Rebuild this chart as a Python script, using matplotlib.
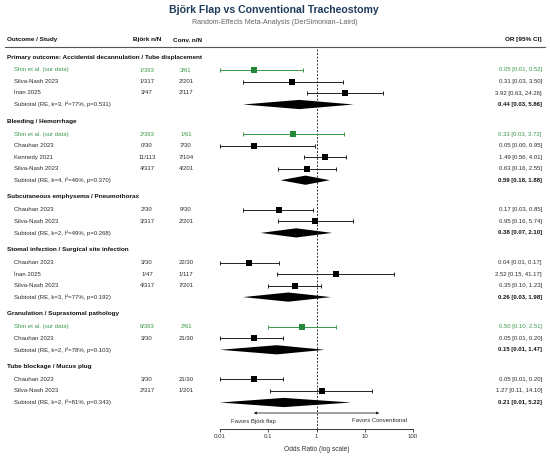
import matplotlib
matplotlib.use('Agg')
import matplotlib.pyplot as plt
from matplotlib.lines import Line2D
import numpy as np

plt.rcParams['font.family'] = ['Liberation Sans', 'DejaVu Sans']

# ---------------- data ----------------
outcomes = [
    "Primary outcome: Accidental decannulation / Tube displacement",
    "Bleeding / Hemorrhage",
    "Subcutaneous emphysema / Pneumothorax",
    "Stomal infection / Surgical site infection",
    "Granulation / Suprastomal pathology",
    "Tube blockage / Mucus plug",
]
group_sizes = [3, 4, 2, 3, 2, 2]

study_names = [
    "Shin et al. (our data)", "Silva-Nash 2023", "İnan 2025",
    "Shin et al. (our data)", "Chauhan 2023", "Kennedy 2021", "Silva-Nash 2023",
    "Chauhan 2023", "Silva-Nash 2023",
    "Chauhan 2023", "İnan 2025", "Silva-Nash 2023",
    "Shin et al. (our data)", "Chauhan 2023",
    "Chauhan 2023", "Silva-Nash 2023",
]
bjork_nN = ["1/363", "1/317", "3/47",
            "2/363", "0/30", "11/113", "4/317",
            "2/30", "3/317",
            "3/30", "1/47", "4/317",
            "6/363", "3/30",
            "3/30", "2/317"]
conv_nN = ["3/61", "2/201", "2/117",
           "1/61", "7/30", "7/104", "4/201",
           "9/30", "2/201",
           "22/30", "1/117", "7/201",
           "2/61", "21/30",
           "21/30", "1/201"]
or_est = [0.05, 0.31, 3.92,
          0.33, 0.05, 1.49, 0.63,
          0.17, 0.95,
          0.04, 2.52, 0.35,
          0.50, 0.05,
          0.05, 1.27]
or_lo = [0.01, 0.03, 0.63,
         0.03, 0.00, 0.56, 0.16,
         0.03, 0.16,
         0.01, 0.15, 0.10,
         0.10, 0.01,
         0.01, 0.11]
or_hi = [0.52, 3.50, 24.26,
         3.72, 0.95, 4.01, 2.55,
         0.85, 5.74,
         0.17, 41.17, 1.23,
         2.51, 0.20,
         0.20, 14.10]
own_data = [True, False, False,
            True, False, False, False,
            False, False,
            False, False, False,
            True, False,
            False, False]

sub_labels = [
    "Subtotal (RE, k=3, I²=77%, p=0.531)",
    "Subtotal (RE, k=4, I²=46%, p=0.370)",
    "Subtotal (RE, k=2, I²=49%, p=0.268)",
    "Subtotal (RE, k=3, I²=77%, p=0.192)",
    "Subtotal (RE, k=2, I²=78%, p=0.103)",
    "Subtotal (RE, k=2, I²=81%, p=0.343)",
]
sub_est = [0.44, 0.59, 0.38, 0.26, 0.15, 0.21]
sub_lo = [0.03, 0.18, 0.07, 0.03, 0.01, 0.01]
sub_hi = [5.86, 1.88, 2.10, 1.98, 1.47, 5.22]

x_ticks = [0.01, 0.1, 1, 10, 100]
x_ticklabels = ["0.01", "0.1", "1", "10", "100"]

# ---------------- layout (pixel units) ----------------
W, H = 550, 457
GREEN = '#23883a'
GREEN_TXT = '#3a9a4a'
NAVY = '#1f3b5c'
TXT = '#2b2b2b'

fig = plt.figure(figsize=(W / 100, H / 100), dpi=100)
tax = fig.add_axes([0, 0, 1, 1])
tax.set_xlim(0, W)
tax.set_ylim(H, 0)
tax.axis('off')

ax_left, ax_right = 220, 413
ax_top, ax_bot = 47, 429
ax = fig.add_axes([ax_left / W, 1 - ax_bot / H, (ax_right - ax_left) / W, (ax_bot - ax_top) / H])
ax.patch.set_alpha(0)
ax.set_xscale('log')
ax.set_xlim(0.01, 100)
ax.set_ylim(ax_bot, ax_top)

# row positions
y = 57.0
step, head_gap, group_gap = 11.5, 13.0, 16.7
head_y, study_y, sub_y = [], [], []
for gi, n in enumerate(group_sizes):
    head_y.append(y)
    y += head_gap
    for k in range(n):
        study_y.append(y)
        y += step
    sub_y.append(y)
    y += group_gap

fs_head = 4.55
fs_row = 4.3

# title
tax.text(W / 2 - 1, 10, "Björk Flap vs Conventional Tracheostomy", ha='center', va='center',
         fontsize=7.6, fontweight='bold', color=NAVY)
tax.text(W / 2, 22.5, "Random-Effects Meta-Analysis (DerSimonian–Laird)", ha='center', va='center',
         fontsize=5.1, color='#666666')

# column headers
col_study, col_name, col_b, col_c, col_or = 7, 14, 147, 186, 542
tax.text(col_study, 40, "Outcome / Study", ha='left', va='center', fontsize=fs_head, fontweight='bold', color='#111')
tax.text(col_b, 40, "Björk n/N", ha='center', va='center', fontsize=fs_head, fontweight='bold', color='#111')
tax.text(col_c + 1.5, 40, "Conv. n/N", ha='center', va='center', fontsize=fs_head, fontweight='bold', color='#111')
tax.text(col_or, 40, "OR [95% CI]", ha='right', va='center', fontsize=fs_head, fontweight='bold', color='#111')
tax.add_line(Line2D([5, 545], [ax_top, ax_top], color='#555555', lw=0.8))

xmin, xmax = ax.get_xlim()

for gi, name in enumerate(outcomes):
    tax.text(col_study, head_y[gi], name, ha='left', va='center', fontsize=fs_head,
             fontweight='bold', color='#111')

for i, yy in enumerate(study_y):
    own = own_data[i]
    tc = GREEN_TXT if own else TXT
    tax.text(col_name, yy, study_names[i], ha='left', va='center', fontsize=fs_row, color=tc)
    tax.text(col_b, yy, bjork_nN[i], ha='center', va='center', fontsize=fs_row, color=tc)
    tax.text(col_c, yy, conv_nN[i], ha='center', va='center', fontsize=fs_row, color=tc)
    tax.text(col_or, yy, f"{or_est[i]:.2f} [{or_lo[i]:.2f}, {or_hi[i]:.2f}]", ha='right',
             va='center', fontsize=fs_row, color=tc)
    lo_c = max(or_lo[i], xmin)
    hi_c = min(or_hi[i], xmax)
    lc = GREEN_TXT if own else '#222222'
    mc = GREEN if own else 'black'
    ax.errorbar([or_est[i]], [yy], xerr=[[or_est[i] - lo_c], [hi_c - or_est[i]]],
                fmt='none', ecolor=lc, elinewidth=0.7, capsize=1.6, capthick=0.7)
    ax.plot([or_est[i]], [yy], marker='s', ms=3.9, color=mc, mec=mc, mew=0, ls='none', zorder=3)

half = 4.6
for gi, yy in enumerate(sub_y):
    tax.text(col_name, yy, sub_labels[gi], ha='left', va='center', fontsize=fs_row, color=TXT)
    tax.text(col_or, yy, f"{sub_est[gi]:.2f} [{sub_lo[gi]:.2f}, {sub_hi[gi]:.2f}]", ha='right',
             va='center', fontsize=fs_row, fontweight='bold', color='#111')
    lo_c = max(sub_lo[gi], xmin)
    hi_c = min(sub_hi[gi], xmax)
    ax.fill([lo_c, sub_est[gi], hi_c, sub_est[gi]], [yy, yy - half, yy, yy + half],
            color='black', lw=0, zorder=3)

# reference line
ax.axvline(1, color='#333333', lw=0.7, ls=(0, (2, 1.6)), zorder=1)

# favours arrow
arrow_y = 413
ax.annotate('', xy=(0.05, arrow_y), xytext=(20, arrow_y),
            arrowprops=dict(arrowstyle='<|-|>', color='#222222', lw=0.6,
                            mutation_scale=3.5, shrinkA=0, shrinkB=0),
            annotation_clip=False)
ax.text(0.05, 421, "Favors Björk flap", ha='center', va='center', fontsize=fs_row, color=TXT)
ax.text(20, 421, "Favors Conventional", ha='center', va='center', fontsize=fs_row, color=TXT)

# axis styling
for s in ['top', 'left', 'right']:
    ax.spines[s].set_visible(False)
ax.spines['bottom'].set_color('#333333')
ax.spines['bottom'].set_linewidth(0.7)
ax.set_yticks([])
ax.set_xticks(x_ticks)
ax.set_xticklabels(x_ticklabels)
ax.xaxis.set_minor_locator(matplotlib.ticker.NullLocator())
ax.tick_params(axis='x', length=2.3, width=0.6, pad=1.5, labelsize=4.4, colors='#333333')
ax.set_xlabel("Odds Ratio (log scale)", fontsize=4.8, color='#333333', labelpad=4.6)

fig.savefig('out.png', dpi=100)
